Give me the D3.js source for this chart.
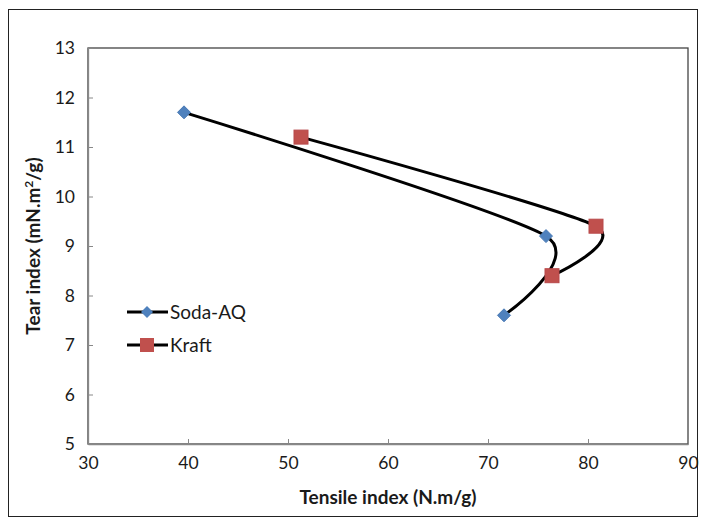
<!DOCTYPE html>
<html><head><meta charset="utf-8">
<script src="https://cdn.jsdelivr.net/npm/d3@7"></script>
<style>body{margin:0;background:#fff}svg{display:block}</style>
</head><body>
<svg id="c" width="706" height="522"></svg>
<script>
const sodaX = [39.6, 75.8, 71.6];
const sodaY = [11.7, 9.2, 7.6];
const kraftX = [51.3, 80.8, 76.4];
const kraftY = [11.2, 9.4, 8.4];
const seriesNames = ["Soda-AQ", "Kraft"];
const xTicks = [30, 40, 50, 60, 70, 80, 90];
const yTicks = [5, 6, 7, 8, 9, 10, 11, 12, 13];

const svg = d3.select("#c");
const font = "Lato, Calibri, sans-serif";
svg.append("rect").attr("x", 8.5).attr("y", 9.5).attr("width", 689).attr("height", 507)
  .attr("fill", "#fff").attr("stroke", "#222").attr("stroke-width", 1);

const L = 88, R = 688, T = 48, B = 444;
const x = d3.scaleLinear().domain([30, 90]).range([L, R]);
const y = d3.scaleLinear().domain([5, 13]).range([B, T]);

svg.append("rect").attr("x", L).attr("y", T).attr("width", R - L).attr("height", B - T)
  .attr("fill", "none").attr("stroke", "#444").attr("stroke-width", 1.3);

const xa = svg.append("g").attr("transform", `translate(0,${B})`)
  .call(d3.axisBottom(x).tickValues(xTicks).tickSizeInner(-5).tickSizeOuter(0).tickPadding(13));
const ya = svg.append("g").attr("transform", `translate(${L},0)`)
  .call(d3.axisLeft(y).tickValues(yTicks).tickSizeInner(-5).tickSizeOuter(0).tickPadding(13));
[xa, ya].forEach(a => {
  a.select(".domain").attr("stroke", "#888").attr("stroke-width", 1.3);
  a.selectAll(".tick line").attr("stroke", "#888");
  a.selectAll("text").attr("font-family", font).attr("font-size", 17.5).attr("fill", "#1a1a1a");
});

svg.append("text").attr("x", (L + R) / 2).attr("y", 504).attr("text-anchor", "middle")
  .attr("font-family", font).attr("font-size", 19).attr("font-weight", "bold").attr("fill", "#1a1a1a")
  .text("Tensile index (N.m/g)");
const yt = svg.append("text").attr("transform", `translate(40,${(T + B) / 2}) rotate(-90)`)
  .attr("text-anchor", "middle").attr("font-family", font).attr("font-size", 19)
  .attr("font-weight", "bold").attr("fill", "#1a1a1a");
yt.append("tspan").text("Tear index (mN.m");
yt.append("tspan").attr("baseline-shift", "super").attr("font-size", 12).text("2");
yt.append("tspan").text("/g)");

const line = d3.line().x(d => x(d[0])).y(d => y(d[1])).curve(d3.curveCardinal.tension(0.3));
const soda = sodaX.map((v, i) => [v, sodaY[i]]);
const kraft = kraftX.map((v, i) => [v, kraftY[i]]);
[soda, kraft].forEach(s => svg.append("path").datum(s).attr("d", line)
  .attr("fill", "none").attr("stroke", "#000").attr("stroke-width", 3));

const diamond = (cx, cy, r) => `M${cx},${cy - r}L${cx + r},${cy}L${cx},${cy + r}L${cx - r},${cy}Z`;
svg.selectAll(".sm").data(soda).enter().append("path")
  .attr("d", d => diamond(x(d[0]), y(d[1]), 6.5)).attr("fill", "#4F81BD").attr("stroke", "#4a7ab5");
svg.selectAll(".km").data(kraft).enter().append("rect")
  .attr("x", d => x(d[0]) - 7).attr("y", d => y(d[1]) - 7).attr("width", 14).attr("height", 14)
  .attr("fill", "#C0504D").attr("stroke", "#b8494a");

// legend
const legY = [312, 345];
seriesNames.forEach((n, i) => {
  svg.append("line").attr("x1", 127).attr("x2", 168).attr("y1", legY[i]).attr("y2", legY[i])
    .attr("stroke", "#000").attr("stroke-width", 3);
  if (i === 0) svg.append("path").attr("d", diamond(147, legY[i], 6)).attr("fill", "#4F81BD");
  else svg.append("rect").attr("x", 140).attr("y", legY[i] - 7).attr("width", 14).attr("height", 14).attr("fill", "#C0504D");
  svg.append("text").attr("x", 170).attr("y", legY[i] + 7).attr("font-family", font).attr("font-size", 19)
    .attr("fill", "#1a1a1a").text(n);
});
</script>
</body></html>
